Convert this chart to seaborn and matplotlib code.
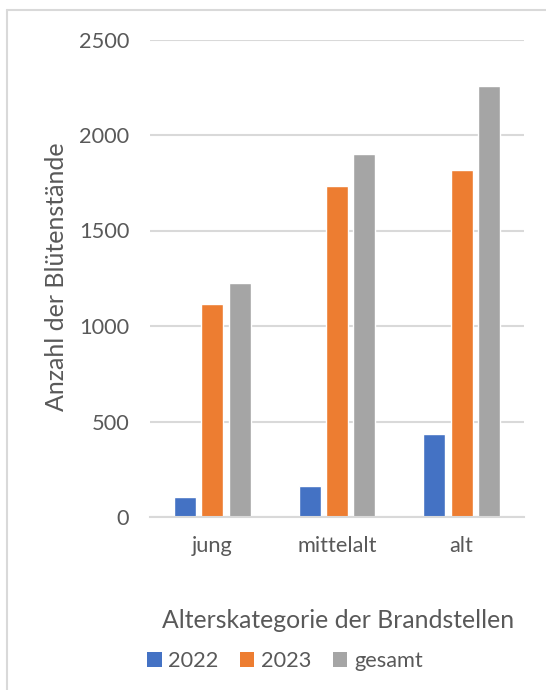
import matplotlib
matplotlib.use("Agg")
import matplotlib.pyplot as plt
import matplotlib.patches as mpatches
import pandas as pd
import seaborn as sns

categories = ["jung", "mittelalt", "alt"]
series_names = ["2022", "2023", "gesamt"]
values_2022 = [105, 162, 435]
values_2023 = [1115, 1733, 1817]
values_gesamt = [1225, 1900, 2258]
y_ticks = [0, 500, 1000, 1500, 2000, 2500]

colors = ["#4472C4", "#ED7D31", "#A5A5A5"]
text_color = "#595959"
grid_color = "#D9D9D9"

df = pd.DataFrame({
    "Kategorie": categories * 3,
    "Serie": [s for s in series_names for _ in categories],
    "Anzahl": values_2022 + values_2023 + values_gesamt,
})

sns.set_theme(style="white")
plt.rcParams["font.family"] = ["Lato", "DejaVu Sans"]

W, H = 546, 690
fig = plt.figure(figsize=(W / 100, H / 100), dpi=100)
ax = fig.add_axes([150 / W, 1 - 517 / H, (524 - 150) / W, (517 - 39.5) / H])

sns.barplot(data=df, x="Kategorie", y="Anzahl", hue="Serie", order=categories,
            hue_order=series_names, palette=colors, width=0.66, gap=0.2,
            saturation=1, ax=ax, legend=False, zorder=3)

ax.set_ylim(0, 2500)
ax.set_yticks(y_ticks)
ax.set_yticklabels([str(t) for t in y_ticks])
ax.yaxis.grid(True, color=grid_color, linewidth=1.5, zorder=0)
ax.set_axisbelow(True)
for s in ["top", "right", "left"]:
    ax.spines[s].set_visible(False)
ax.spines["bottom"].set_color(grid_color)
ax.spines["bottom"].set_linewidth(1.5)
ax.spines["bottom"].set_zorder(4)
ax.tick_params(axis="both", length=0, labelsize=15.7, colors=text_color)
ax.tick_params(axis="y", pad=15)
ax.tick_params(axis="x", pad=14)
ax.set_xlabel("")
ax.set_ylabel("")

fig.text(57 / W, 1 - 277 / H, "Anzahl der Blütenstände", rotation=90,
         ha="center", va="center", fontsize=18, color=text_color)
fig.text(338 / W, 1 - 620 / H, "Alterskategorie der Brandstellen",
         ha="center", va="center", fontsize=17.8, color=text_color)

handles = [mpatches.Patch(facecolor=c, edgecolor="none", label=n)
           for c, n in zip(colors, series_names)]
leg = fig.legend(handles=handles, loc="center", bbox_to_anchor=(285 / W, 1 - 661 / H),
                 ncol=3, frameon=False, fontsize=15.7, handlelength=0.65,
                 handleheight=0.65, handletextpad=0.3, columnspacing=1.0,
                 labelcolor=text_color)

# chart-area border (left and top edges)
fig.add_artist(plt.Line2D([7 / W, 7 / W], [1 - 10 / H, 0], transform=fig.transFigure,
                          color=grid_color, linewidth=1.5))
fig.add_artist(plt.Line2D([7 / W, 1], [1 - 10 / H, 1 - 10 / H], transform=fig.transFigure,
                          color=grid_color, linewidth=1.5))

fig.savefig("out.png", dpi=100, facecolor="white")
